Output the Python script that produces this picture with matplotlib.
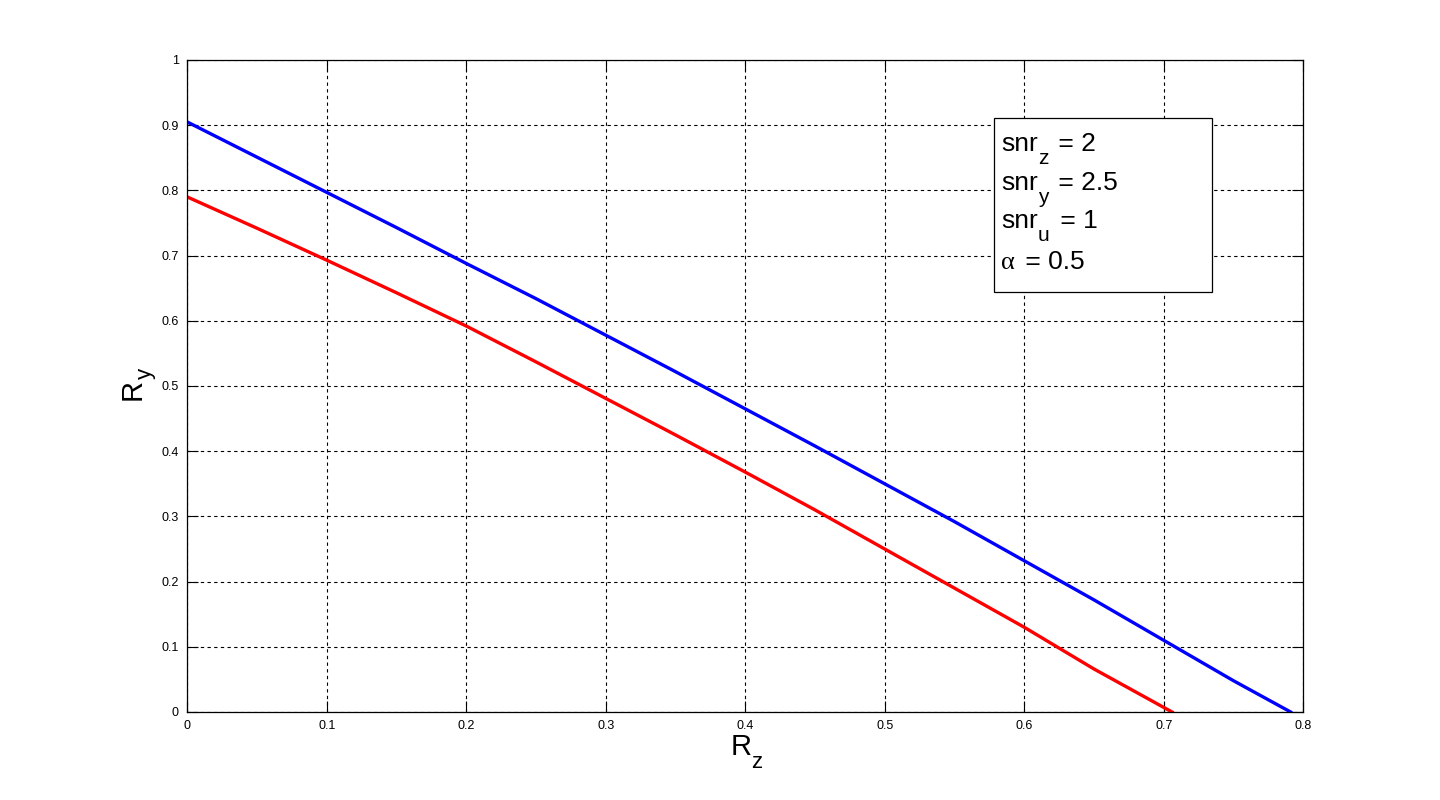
import matplotlib
matplotlib.use("Agg")
import matplotlib.pyplot as plt
from matplotlib.patches import Rectangle
from matplotlib.transforms import IdentityTransform

# Curve values
rz_blue = [0.0, 0.05, 0.1, 0.15, 0.2, 0.25, 0.3, 0.35, 0.4, 0.45, 0.5,
           0.55, 0.6, 0.65, 0.7, 0.75, 0.791]
ry_blue = [0.905, 0.851, 0.797, 0.743, 0.688, 0.634, 0.578, 0.522, 0.465,
           0.408, 0.350, 0.292, 0.232, 0.172, 0.110, 0.048, 0.0]

rz_red = [0.0, 0.05, 0.1, 0.15, 0.2, 0.25, 0.3, 0.35, 0.4, 0.45, 0.5,
          0.55, 0.6, 0.65, 0.706]
ry_red = [0.790, 0.742, 0.693, 0.643, 0.592, 0.537, 0.481, 0.425, 0.368,
          0.310, 0.250, 0.190, 0.130, 0.066, 0.0]

x_ticks = [0, 0.1, 0.2, 0.3, 0.4, 0.5, 0.6, 0.7, 0.8]
y_ticks = [0, 0.1, 0.2, 0.3, 0.4, 0.5, 0.6, 0.7, 0.8, 0.9, 1]

# (base, subscript, rest) for each line of the parameter box
info_lines = [("snr", "z", " = 2"), ("snr", "y", " = 2.5"),
              ("snr", "u", " = 1"), ("\u03b1", "", " = 0.5")]
info_baselines = [0.8604, 0.8006, 0.7423, 0.6794]

plt.rcParams["font.family"] = ["Liberation Sans", "DejaVu Sans"]

fig = plt.figure(figsize=(14.4, 8), dpi=100)
ax = fig.add_axes([0.13, 0.11, 0.775, 0.815])
renderer = fig.canvas.get_renderer()
px = fig.dpi / 72.0


def matlab_sub(x, y, base, sub, rest, size, sub_size, drop, rotated=False,
               base_family=None, gap=0.0):
    """MATLAB-like subscript: full-ish size and dropped well below baseline."""
    x0, y0 = ax.transAxes.transform((x, y))
    kw = dict(transform=IdentityTransform(), rotation_mode="anchor",
              ha="left", va="baseline", zorder=5)
    rot = 90 if rotated else 0
    t = fig.text(x0, y0, base, fontsize=size, rotation=rot,
                 family=base_family or plt.rcParams["font.family"], **kw)
    bb = t.get_window_extent(renderer)
    d = drop * px
    if rotated:
        pos = bb.y1
        if sub:
            s = fig.text(x0 + d, pos, sub, fontsize=sub_size, rotation=rot, **kw)
            pos = s.get_window_extent(renderer).y1
        if rest:
            fig.text(x0, pos + gap, rest, fontsize=size, rotation=rot, **kw)
    else:
        pos = bb.x1
        if sub:
            s = fig.text(pos, y0 - d, sub, fontsize=sub_size, **kw)
            pos = s.get_window_extent(renderer).x1
        if rest:
            fig.text(pos + gap, y0, rest, fontsize=size, **kw)


ax.plot(rz_blue, ry_blue, color="#0000ff", linewidth=2.4)
ax.plot(rz_red, ry_red, color="#ff0000", linewidth=2.4)

ax.set_xlim(0, 0.8)
ax.set_ylim(0, 1)
ax.set_xticks(x_ticks)
ax.set_yticks(y_ticks)
ax.set_xticklabels([f"{t:g}" for t in x_ticks])
ax.set_yticklabels([f"{t:g}" for t in y_ticks])
ax.tick_params(direction="in", length=8, labelsize=9, top=True, right=True,
               pad=6)
ax.grid(True, color="black", linestyle=(0, (3, 3)), linewidth=0.8)
for s in ax.spines.values():
    s.set_linewidth(0.9)

# axis labels R_z and R_y
matlab_sub(0.4866, -0.066, "R", "z", "", 21, 16, 9.5)
matlab_sub(-0.042, 0.478, "R", "y", "", 21, 16, 7.5, rotated=True)

# parameter box
ax.add_patch(Rectangle((0.723, 0.644), 0.195, 0.267, transform=ax.transAxes,
                       facecolor="white", edgecolor="black", linewidth=0.9,
                       zorder=3))
for (base, sub, rest), yb in zip(info_lines, info_baselines):
    fam = ["Liberation Serif"] if base == "\u03b1" else None
    matlab_sub(0.7294, yb, base, sub, rest, 19, 15, 9.5, base_family=fam,
               gap=3)

fig.savefig("out.png", dpi=100, facecolor="white")
